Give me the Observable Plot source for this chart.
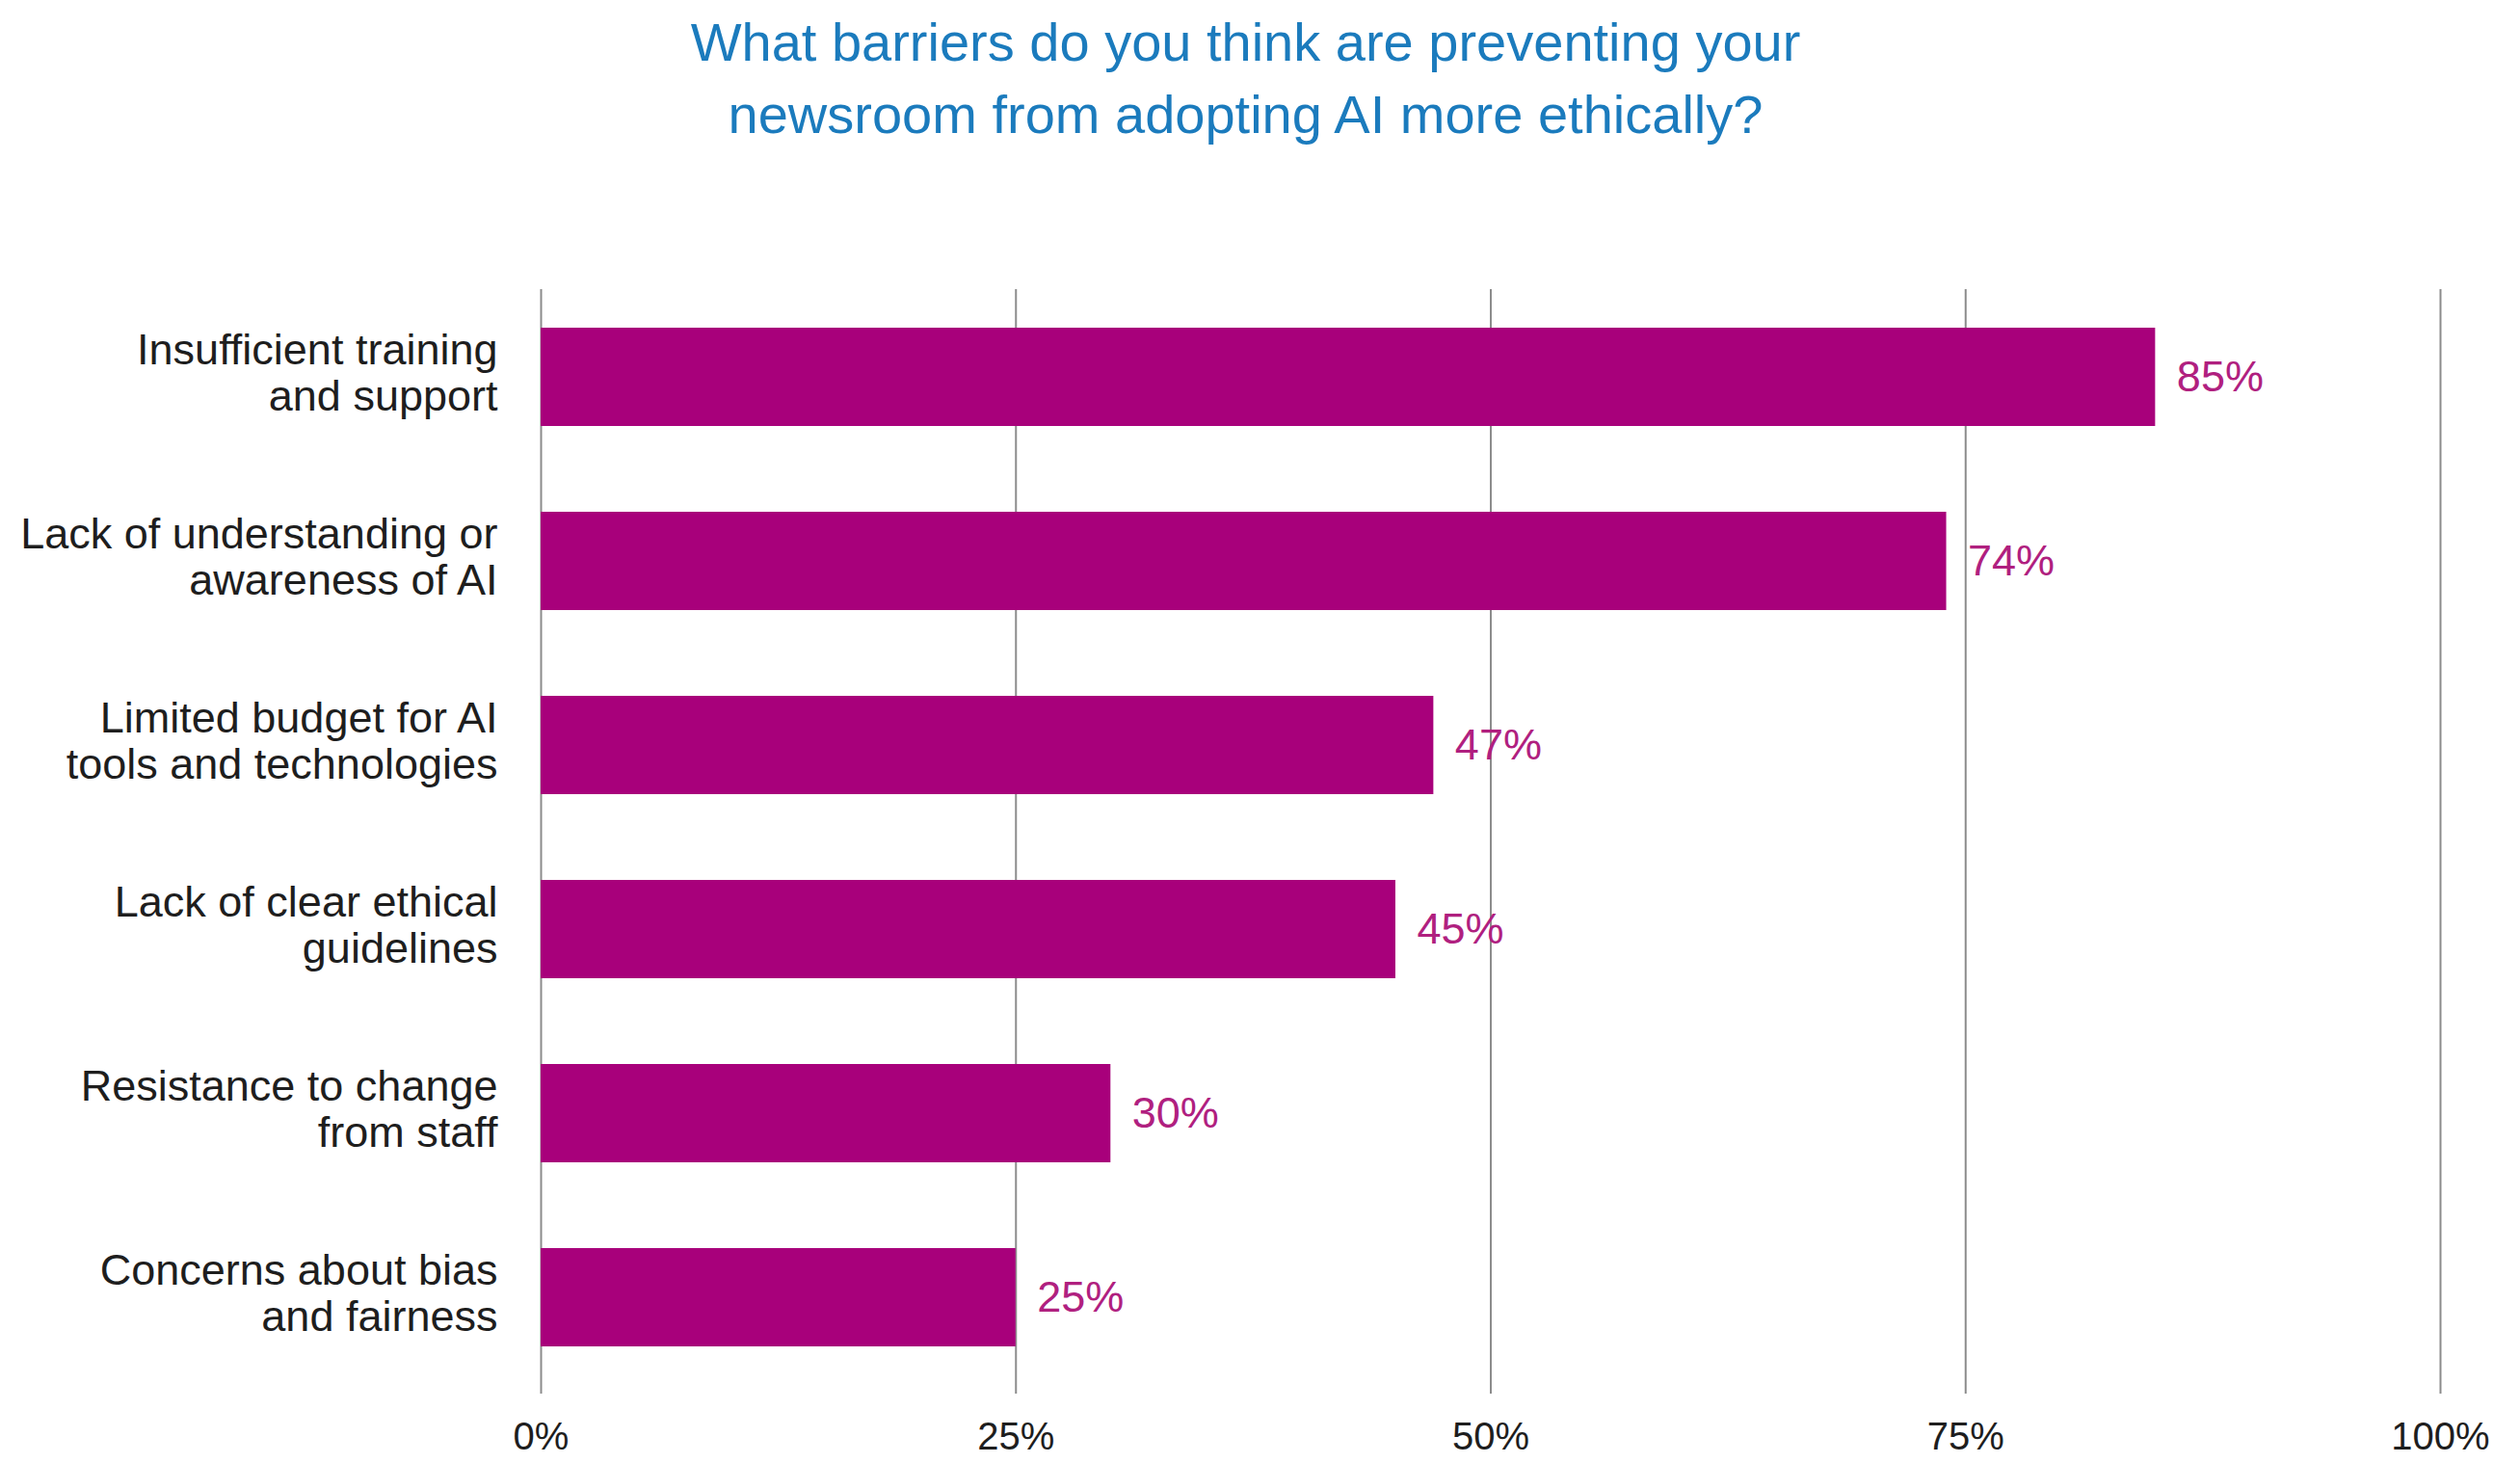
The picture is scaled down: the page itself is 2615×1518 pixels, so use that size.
<!DOCTYPE html>
<html>
<head>
<meta charset="utf-8">
<script src="https://cdn.jsdelivr.net/npm/d3@7"></script>
<script src="https://cdn.jsdelivr.net/npm/@observablehq/plot@0.6"></script>
<style>
  html, body { margin: 0; padding: 0; background: #fff; }
  body { width: 2615px; height: 1518px; overflow: hidden; font-family: "Liberation Sans", Arial, Helvetica, sans-serif; }
  #title { height: 170px; box-sizing: border-box; padding-top: 6px; text-align: center; color: #1b7bbd; font-size: 56px; line-height: 75px; padding-right: 30px; }
  svg { display: block; }
</style>
</head>
<body>
<div id="title">What barriers do you think are preventing your<br>newsroom from adopting AI more ethically?</div>
<div id="chart"></div>
<script>
const categories = [
  "Insufficient training\nand support",
  "Lack of understanding or\nawareness of AI",
  "Limited budget for AI\ntools and technologies",
  "Lack of clear ethical\nguidelines",
  "Resistance to change\nfrom staff",
  "Concerns about bias\nand fairness"
];
const values = [0.85, 0.74, 0.47, 0.45, 0.30, 0.25];
const valueLabels = ["85%", "74%", "47%", "45%", "30%", "25%"];
const xTicks = [0, 0.25, 0.5, 0.75, 1];

const data = categories.map((c, i) => ({category: c, value: values[i], label: valueLabels[i]}));

const barColor = "#a8007b";

const chart = Plot.plot({
  width: 2615,
  height: 1348,
  marginTop: 130,
  marginBottom: 72,
  marginLeft: 561,
  marginRight: 83,
  style: {fontFamily: '"Liberation Sans", Arial, Helvetica, sans-serif', background: "#fff"},
  x: {domain: [0, 1]},
  y: {domain: categories, paddingInner: 0.465, paddingOuter: 0.23, align: 0.45},
  marks: [
    Plot.ruleX(xTicks, {stroke: "#8c8c8c", strokeWidth: 2}),
    Plot.barX(data, {x: "value", y: "category", fill: barColor}),
    Plot.text(data, {x: "value", y: "category", text: "label", textAnchor: "start", dx: 22, fill: "#b0207f", fontSize: 45}),
    Plot.text(data, {x: 0, y: "category", text: "category", textAnchor: "end", dx: -45, dy: -5, fill: "#1e1e1e", fontSize: 45, lineHeight: 1.06}),
    Plot.axisX({ticks: xTicks, tickFormat: d3.format(".0%"), tickSize: 0, tickPadding: 29, fontSize: 40, color: "#1e1e1e", label: null}),
    Plot.axisY({ticks: [], label: null})
  ]
});
document.getElementById("chart").appendChild(chart);
</script>
</body>
</html>
